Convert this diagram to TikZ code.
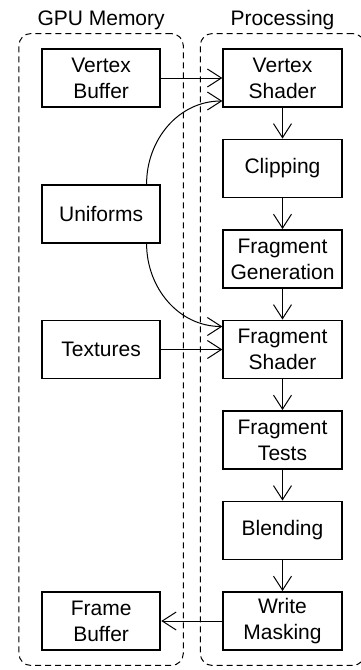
\documentclass[tikz,border=0pt]{standalone}
\usepackage{fontspec}
\setmainfont{Liberation Sans}
\usetikzlibrary{positioning,arrows.meta,fit,calc}

\begin{document}
\begin{tikzpicture}[
    x=1pt, y=1pt,
    >={Straight Barb[length=14pt,width=18pt]},
    node distance=30.6pt and 61pt,
    box/.style={draw, line width=1.9pt, minimum width=118.5pt, minimum height=58pt, align=center, inner sep=2pt, font=\fontsize{21}{26}\selectfont},
    group/.style={draw, dash pattern=on 6pt off 4pt, line width=1pt, rounded corners=12pt, inner xsep=22pt, inner ysep=14.5pt},
    title/.style={font=\fontsize{21}{26}\selectfont, inner sep=3pt},
    arrow/.style={->, line width=1pt},
]
\useasboundingbox (0,0) rectangle (361,-670);
% processing pipeline
\node[box] at (282.5,-78) (vshader) {Vertex\\Shader};
\node[box, below=of vshader] (clip) {Clipping};
\node[box, below=of clip] (fraggen) {Fragment\\Generation};
\node[box, below=of fraggen] (fshader) {Fragment\\Shader};
\node[box, below=of fshader] (ftests) {Fragment\\Tests};
\node[box, below=of ftests] (blend) {Blending};
\node[box, below=of blend] (wmask) {Write\\Masking};
% memory side
\node[box, left=of vshader] (vbuffer) {Vertex\\Buffer};
\node[box] at (vbuffer |- {$(clip)!0.5!(fraggen)$}) (uniforms) {Uniforms};
\node[box, left=of fshader] (textures) {Textures};
\node[box, left=of wmask] (fbuffer) {Frame\\Buffer};
% groups
\node[group, fit=(vbuffer) (fbuffer)] (memory) {};
\node[group, fit=(vshader) (wmask)] (processing) {};
\node[title, above=0pt of memory] (memtitle) {GPU Memory};
\node[title, above=0pt of processing] (proctitle) {Processing};
% pipeline flow
\draw[arrow] (vshader) -- (clip);
\draw[arrow] (clip) -- (fraggen);
\draw[arrow] (fraggen) -- (fshader);
\draw[arrow] (fshader) -- (ftests);
\draw[arrow] (ftests) -- (blend);
\draw[arrow] (blend) -- (wmask);
% inputs and output
\draw[arrow] (vbuffer) -- (vshader);
\draw[arrow] (textures) -- (fshader);
\draw[arrow] (wmask) -- (fbuffer);
\draw[arrow] ([xshift=45.5pt]uniforms.north) to[out=90, in=180] ([yshift=-23pt]vshader.west);
\draw[arrow] ([xshift=45.5pt]uniforms.south) to[out=-90, in=180] ([yshift=23pt]fshader.west);
\end{tikzpicture}
\end{document}
